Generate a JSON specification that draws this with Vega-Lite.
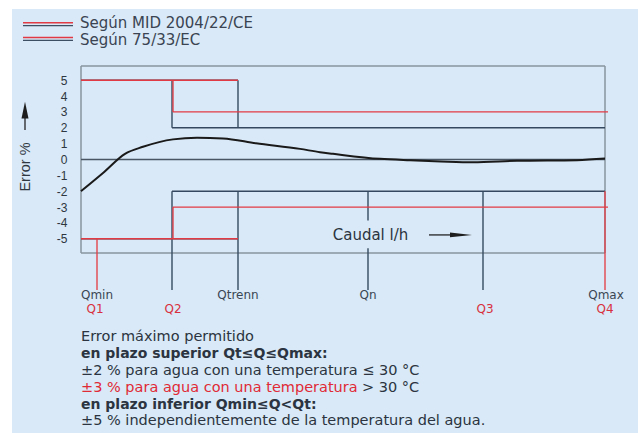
{
  "$schema": "https://vega.github.io/schema/vega-lite/v6.json",
  "width": 524,
  "height": 187,
  "autosize": {"type": "none"},
  "padding": {"left": 81, "top": 66, "right": 33, "bottom": 180},
  "background": "#ffffff",
  "config": {"view": {"stroke": null}, "font": "DejaVu Sans"},
  "datasets": {
    "panel": [
      {"x": -69, "x2": 557, "y": 9.5, "y2": -18}
    ],
    "segs": [
      {"x": 0, "x2": 524, "y": 5.9, "y2": 5.9, "s": "frame"},
      {"x": 0, "x2": 524, "y": -5.9, "y2": -5.9, "s": "frame"},
      {"x": 0, "x2": 0, "y": -5.9, "y2": 5.9, "s": "frame"},
      {"x": 524, "x2": 524, "y": -5.9, "y2": 5.9, "s": "frame"},
      {"x": 0, "x2": 524, "y": 0, "y2": 0, "s": "zero"},
      {"x": 0, "x2": 157, "y": 5, "y2": 5, "s": "dark"},
      {"x": 91, "x2": 91, "y": 5, "y2": 2, "s": "dark"},
      {"x": 91, "x2": 524, "y": 2, "y2": 2, "s": "dark"},
      {"x": 157, "x2": 157, "y": 5, "y2": 2, "s": "dark"},
      {"x": 0, "x2": 157, "y": -5, "y2": -5, "s": "dark"},
      {"x": 91, "x2": 91, "y": -2, "y2": -8.23, "s": "dark"},
      {"x": 91, "x2": 524, "y": -2, "y2": -2, "s": "dark"},
      {"x": 157, "x2": 157, "y": -2, "y2": -8.23, "s": "dark"},
      {"x": 287, "x2": 287, "y": -2, "y2": -3.85, "s": "dark"},
      {"x": 287, "x2": 287, "y": -5.6, "y2": -8.23, "s": "dark"},
      {"x": 402, "x2": 402, "y": -2, "y2": -8.23, "s": "dark"},
      {"x": 0, "x2": 157, "y": 5, "y2": 5, "s": "red"},
      {"x": 92, "x2": 92, "y": 5, "y2": 3, "s": "red"},
      {"x": 92, "x2": 527, "y": 3, "y2": 3, "s": "red"},
      {"x": 0, "x2": 157, "y": -5, "y2": -5, "s": "red"},
      {"x": 92, "x2": 92, "y": -3, "y2": -5, "s": "red"},
      {"x": 92, "x2": 527, "y": -3, "y2": -3, "s": "red"},
      {"x": 16, "x2": 16, "y": -5, "y2": -8.23, "s": "red"},
      {"x": 524, "x2": 524, "y": -2, "y2": -8.23, "s": "red"},
      {"x": 348, "x2": 372, "y": -4.76, "y2": -4.76, "s": "arrow"},
      {"x": -56, "x2": -56, "y": 1.86, "y2": 2.7, "s": "arrow"},
      {"x": -58, "x2": -8, "y": 8.63, "y2": 8.63, "s": "red"},
      {"x": -58, "x2": -8, "y": 8.45, "y2": 8.45, "s": "legdark"},
      {"x": -58, "x2": -8, "y": 7.7, "y2": 7.7, "s": "red"},
      {"x": -58, "x2": -8, "y": 7.52, "y2": 7.52, "s": "legdark"}
    ],
    "curve": [
      {"x": 0, "y": -2},
      {"x": 22, "y": -0.85},
      {"x": 44, "y": 0.36},
      {"x": 62, "y": 0.8},
      {"x": 92, "y": 1.27},
      {"x": 116, "y": 1.37},
      {"x": 142, "y": 1.33},
      {"x": 175, "y": 1.02},
      {"x": 219, "y": 0.67},
      {"x": 239, "y": 0.46},
      {"x": 252, "y": 0.36},
      {"x": 299, "y": 0.04},
      {"x": 329, "y": -0.05},
      {"x": 360, "y": -0.12},
      {"x": 392, "y": -0.17},
      {"x": 436, "y": -0.08},
      {"x": 496, "y": -0.04},
      {"x": 524, "y": 0.06}
    ],
    "ticks": [
      {"t": "Qmin", "x": 16, "y": -8.55, "k": "n"},
      {"t": "Qtrenn", "x": 157, "y": -8.55, "k": "n"},
      {"t": "Qn", "x": 287, "y": -8.55, "k": "n"},
      {"t": "Qmax", "x": 525, "y": -8.55, "k": "n"},
      {"t": "Q1", "x": 14, "y": -9.43, "k": "r"},
      {"t": "Q2", "x": 92, "y": -9.43, "k": "r"},
      {"t": "Q3", "x": 404, "y": -9.43, "k": "r"},
      {"t": "Q4", "x": 524, "y": -9.43, "k": "r"}
    ],
    "notes": [
      {"t": "Error máximo permitido", "x": 0, "y": -11.2, "k": "n"},
      {"t": "en plazo superior Qt≤Q≤Qmax:", "x": 0, "y": -12.27, "k": "b"},
      {"t": "±2 % para agua con una temperatura ≤ 30 °C", "x": 0, "y": -13.34, "k": "n"},
      {"t": "±3 % para agua con una temperatura", "x": 0, "y": -14.41, "k": "r"},
      {"t": "> 30 °C", "x": 281, "y": -14.41, "k": "n"},
      {"t": "en plazo inferior Qmin≤Q<Qt:", "x": 0, "y": -15.46, "k": "b"},
      {"t": "±5 % independientemente de la temperatura del agua.", "x": 0, "y": -16.5, "k": "n"}
    ],
    "legend": [
      {"t": "Según MID 2004/22/CE", "x": -1, "y": 8.59},
      {"t": "Según 75/33/EC", "x": -1, "y": 7.56}
    ],
    "caudal": [
      {"t": "Caudal l/h", "x": 289.5, "y": -4.76}
    ],
    "heads": [
      {"x": 380, "y": -4.76, "d": "r"},
      {"x": -56, "y": 3.12, "d": "u"}
    ]
  },
  "encoding": {
    "x": {"field": "x", "type": "quantitative", "scale": {"domain": [0, 524], "nice": false, "zero": false}, "axis": null},
    "y": {
      "field": "y", "type": "quantitative",
      "scale": {"domain": [-5.9, 5.9], "nice": false, "zero": false},
      "title": "Error %",
      "axis": {
        "values": [5, 4, 3, 2, 1, 0, -1, -2, -3, -4, -5],
        "domain": false, "ticks": false, "grid": false, "zindex": 2,
        "labelPadding": 14, "labelFont": "Liberation Sans", "labelFontSize": 12,
        "labelColor": "#2e3640", "labelExpr": "'' + datum.value", "labelOverlap": false,
        "titleFont": "Liberation Sans", "titleFontSize": 14.5, "titleFontWeight": "normal",
        "titleColor": "#2e3640", "titleX": -56, "titleY": 100.5, "titleAngle": -90,
        "titleBaseline": "middle", "titleAlign": "center"
      }
    }
  },
  "resolve": {"scale": {"color": "independent", "size": "independent"}},
  "layer": [
    {
      "data": {"name": "panel"},
      "mark": {"type": "rect", "color": "#d9e9f7", "opacity": 1},
      "encoding": {
        "x2": {"field": "x2"},
        "y2": {"field": "y2"}
      }
    },
    {
      "data": {"name": "segs"},
      "mark": {"type": "rule"},
      "encoding": {
        "x2": {"field": "x2"},
        "y2": {"field": "y2"},
        "color": {"field": "s", "type": "nominal", "legend": null,
          "scale": {"domain": ["frame", "zero", "dark", "red", "arrow", "legdark"], "range": ["#8794a1", "#4a5664", "#34495f", "#e23a44", "#1e1e1e", "#3d4f63"]}},
        "size": {"field": "s", "type": "nominal", "legend": null,
          "scale": {"domain": ["frame", "zero", "dark", "red", "arrow", "legdark"], "range": [1.5, 1.2, 1.7, 1.2, 1.6, 1.3]}}
      }
    },
    {
      "data": {"name": "curve"},
      "mark": {"type": "line", "interpolate": "monotone", "color": "#1a1a1a", "strokeWidth": 2}
    },
    {
      "data": {"name": "heads"},
      "transform": [{"filter": "datum.d == 'r'"}],
      "mark": {"type": "point", "shape": "M-1,-0.22L1,0L-1,0.22Z", "size": 484, "filled": true, "color": "#1e1e1e", "opacity": 1}
    },
    {
      "data": {"name": "heads"},
      "transform": [{"filter": "datum.d == 'u'"}],
      "mark": {"type": "point", "shape": "M-0.42,1L0,-1L0.42,1Z", "size": 280, "filled": true, "color": "#1e1e1e", "opacity": 1}
    },
    {
      "data": {"name": "ticks"},
      "mark": {"type": "text", "font": "DejaVu Sans", "fontSize": 12, "align": "center", "baseline": "middle"},
      "encoding": {
        "text": {"field": "t"},
        "color": {"field": "k", "type": "nominal", "legend": null,
          "scale": {"domain": ["n", "r"], "range": ["#3a4654", "#d8303e"]}}
      }
    },
    {
      "data": {"name": "caudal"},
      "mark": {"type": "text", "font": "DejaVu Sans", "fontSize": 15, "align": "center", "baseline": "middle", "color": "#2b3440"},
      "encoding": {"text": {"field": "t"}}
    },
    {
      "data": {"name": "legend"},
      "mark": {"type": "text", "font": "DejaVu Sans", "fontSize": 15, "align": "left", "baseline": "middle", "color": "#3a4452"},
      "encoding": {"text": {"field": "t"}}
    },
    {
      "data": {"name": "notes"},
      "transform": [{"filter": "datum.k != 'b'"}],
      "mark": {"type": "text", "font": "DejaVu Sans", "fontSize": 14.5, "align": "left", "baseline": "middle"},
      "encoding": {
        "text": {"field": "t"},
        "color": {"field": "k", "type": "nominal", "legend": null,
          "scale": {"domain": ["n", "r"], "range": ["#2b3440", "#e02a36"]}}
      }
    },
    {
      "data": {"name": "notes"},
      "transform": [{"filter": "datum.k == 'b'"}],
      "mark": {"type": "text", "font": "DejaVu Sans", "fontSize": 14, "fontWeight": "bold", "align": "left", "baseline": "middle", "color": "#2b3440"},
      "encoding": {"text": {"field": "t"}}
    }
  ]
}
